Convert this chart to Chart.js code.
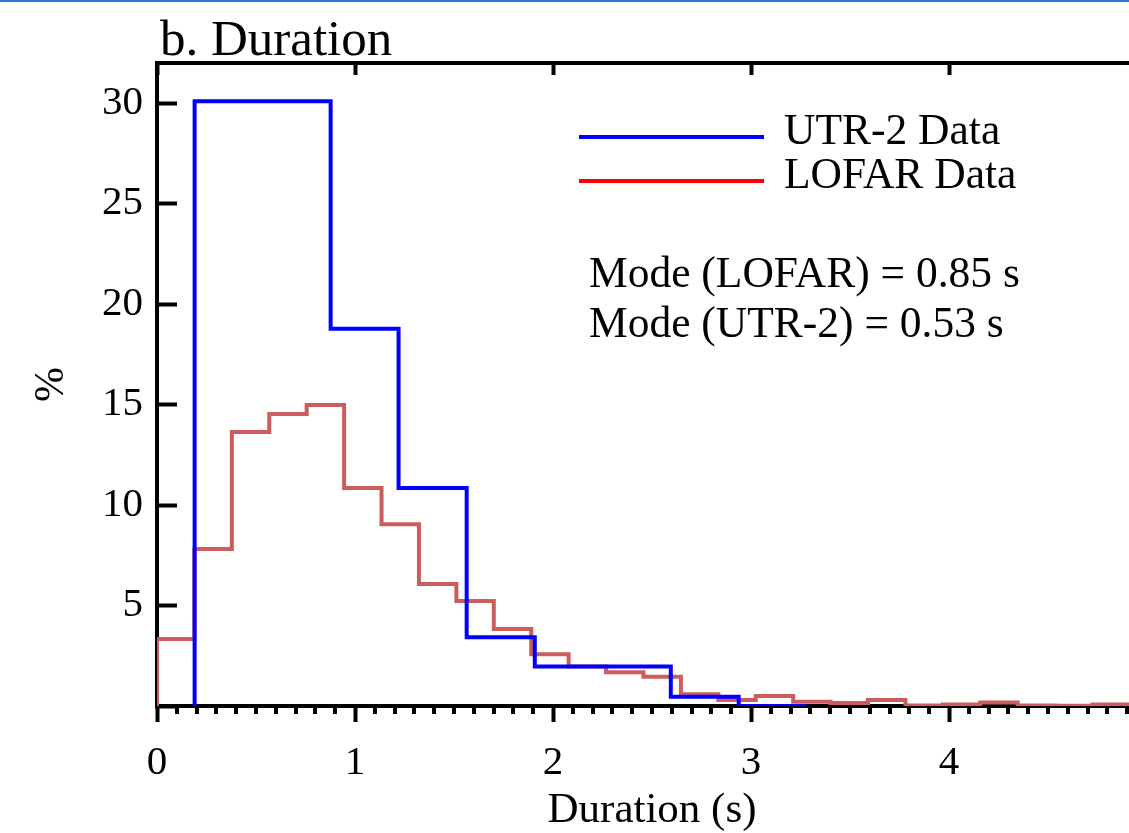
<!DOCTYPE html>
<html>
<head>
<meta charset="utf-8">
<script src="https://cdn.jsdelivr.net/npm/chart.js@4.4.1/dist/chart.umd.min.js"></script>
<style>
html,body{margin:0;padding:0;background:#fff;overflow:hidden;width:1129px;height:833px;}
#wrap{position:absolute;left:0;top:0;width:1180px;height:833px;}
#topbar{position:absolute;left:0;top:0;width:1129px;height:2px;background:#2b7cd3;z-index:2;}
</style>
</head>
<body>
<div id="wrap"><canvas id="c" width="1180" height="833"></canvas></div>
<div id="topbar"></div>
<script>
// ---- chart content ----
const titleText = 'b. Duration';
const xAxisTitle = 'Duration (s)';
const yAxisTitle = '%';
const seriesNames = ['UTR-2 Data', 'LOFAR Data'];
const modeNotes = ['Mode (LOFAR) = 0.85 s', 'Mode (UTR-2) = 0.53 s'];
const xTickLabels = ['0', '1', '2', '3', '4'];
const yTickLabels = ['5', '10', '15', '20', '25', '30'];

// UTR-2 histogram (bin edges in s, percent per bin)
const utrBinEdges = [0.19, 0.877, 1.22, 1.564, 1.908, 2.595, 2.938, 3.28];
const utrPercent  = [30.1, 18.77, 10.85, 3.42, 1.97, 0.46, 0];

// LOFAR histogram (bin edges in s, percent per bin)
const lofarBinEdges = [0, 0.189, 0.378, 0.567, 0.756, 0.945, 1.134, 1.323, 1.512, 1.701,
  1.89, 2.079, 2.268, 2.457, 2.646, 2.835, 3.024, 3.213, 3.402, 3.591, 3.78, 3.969,
  4.158, 4.347, 4.536, 4.725, 4.914];
const lofarPercent = [3.33, 7.81, 13.63, 14.53, 14.98, 10.85, 9.05, 6.07, 5.22, 3.83,
  2.57, 1.96, 1.68, 1.46, 0.58, 0.30, 0.50, 0.21, 0.15, 0.30, 0.02, 0.08, 0.18, 0.03, 0.01, 0.08];

// ---- helpers ----
function stepPoints(edges, vals) {
  const pts = [{x: edges[0], y: 0}];
  vals.forEach((v, i) => {
    pts.push({x: edges[i], y: v});
    pts.push({x: edges[i + 1], y: v});
  });
  return pts;
}
const isMajor = v => Math.abs(v - Math.round(v)) < 1e-6;
const SERIF = "'Liberation Serif', 'Times New Roman', serif";

const decor = {
  id: 'decor',
  beforeDatasetsDraw(chart) {
    const xs = chart.scales.x, ctx = chart.ctx;
    const y0 = chart.chartArea.bottom;
    ctx.save();
    ctx.strokeStyle = '#000';
    ctx.lineWidth = 4;
    xs.ticks.forEach(t => {
      if (!isMajor(t.value)) {
        const px = Math.round(xs.getPixelForValue(t.value));
        ctx.beginPath();
        ctx.moveTo(px, y0);
        ctx.lineTo(px, y0 + 8);
        ctx.stroke();
      }
    });
    ctx.restore();
  },
  afterDraw(chart) {
    const ctx = chart.ctx, a = chart.chartArea;
    ctx.save();
    ctx.fillStyle = '#000';
    ctx.textBaseline = 'alphabetic';
    ctx.textAlign = 'left';
    // title
    ctx.font = "51px " + SERIF;
    ctx.fillText(titleText, a.left + 3, a.top - 8);
    // legend
    const legendColors = ['#0000ff', '#ff0000'];
    const lx0 = a.left + 422, lx1 = a.left + 607;
    const ly = [a.top + 74, a.top + 118];
    ctx.lineWidth = 4;
    legendColors.forEach((c, i) => {
      ctx.strokeStyle = c;
      ctx.beginPath();
      ctx.moveTo(lx0, ly[i]);
      ctx.lineTo(lx1, ly[i]);
      ctx.stroke();
    });
    ctx.font = "43.5px " + SERIF;
    ctx.fillText(seriesNames[0], a.left + 627, a.top + 81);
    ctx.fillText(seriesNames[1], a.left + 627, a.top + 125);
    ctx.fillText(modeNotes[0], a.left + 432, a.top + 224);
    ctx.fillText(modeNotes[1], a.left + 432, a.top + 274);
    ctx.restore();
  }
};

const chart = new Chart(document.getElementById('c'), {
  type: 'line',
  data: {
    datasets: [
      {
        label: seriesNames[0],
        data: stepPoints(utrBinEdges, utrPercent),
        borderColor: '#0000ff',
        borderWidth: 4,
        pointRadius: 0,
        tension: 0,
        fill: false,
        order: 0
      },
      {
        label: seriesNames[1],
        data: stepPoints(lofarBinEdges, lofarPercent),
        borderColor: '#cd5c5c',
        borderWidth: 4,
        pointRadius: 0,
        tension: 0,
        fill: false,
        order: 1
      }
    ]
  },
  plugins: [decor],
  options: {
    responsive: false,
    animation: false,
    devicePixelRatio: 1,
    layout: {padding: {left: 0, top: 0, right: 33, bottom: 0}},
    plugins: {legend: {display: false}, tooltip: {enabled: false}, title: {display: false}},
    scales: {
      x: {
        type: 'linear',
        position: 'bottom',
        min: 0, max: 5,
        afterFit: s => { s.height = 127; },
        border: {display: true, color: '#000', width: 4},
        grid: {
          drawOnChartArea: false, drawTicks: true, tickLength: 16, tickWidth: 4,
          tickColor: c => (c.tick && isMajor(c.tick.value)) ? '#000' : 'rgba(0,0,0,0)'
        },
        ticks: {
          stepSize: 0.1, autoSkip: false, includeBounds: false, maxRotation: 0, minRotation: 0,
          padding: 17, color: '#000', font: {family: SERIF, size: 41},
          callback: v => isMajor(v) ? (xTickLabels[Math.round(v)] || '') : ''
        },
        title: {display: true, text: xAxisTitle, color: '#000',
          font: {family: SERIF, size: 43, lineHeight: 1}, padding: {top: 0, bottom: 1}}
      },
      x2: {
        type: 'linear',
        position: 'top',
        min: 0, max: 5,
        afterFit: s => { s.height = 63; },
        border: {display: true, color: '#000', width: 4},
        grid: {drawOnChartArea: false, drawTicks: true, tickLength: -12, tickWidth: 4, tickColor: '#000'},
        ticks: {display: false, stepSize: 1, includeBounds: false}
      },
      y: {
        type: 'linear',
        position: 'left',
        min: 0, max: 32,
        afterFit: s => { s.width = 157; },
        border: {display: true, color: '#000', width: 4},
        grid: {drawOnChartArea: false, drawTicks: true, tickLength: -20, tickWidth: 4, tickColor: '#000'},
        ticks: {
          stepSize: 5, includeBounds: false, padding: 34, color: '#000',
          font: {family: SERIF, size: 41},
          callback: v => (v > 0 && v % 5 === 0) ? (yTickLabels[v / 5 - 1] || '') : ''
        },
        title: {display: true, text: yAxisTitle, color: '#000',
          font: {family: SERIF, size: 42, lineHeight: 1}, padding: {top: 31, bottom: 0}}
      }
    }
  }
});
</script>
</body>
</html>
